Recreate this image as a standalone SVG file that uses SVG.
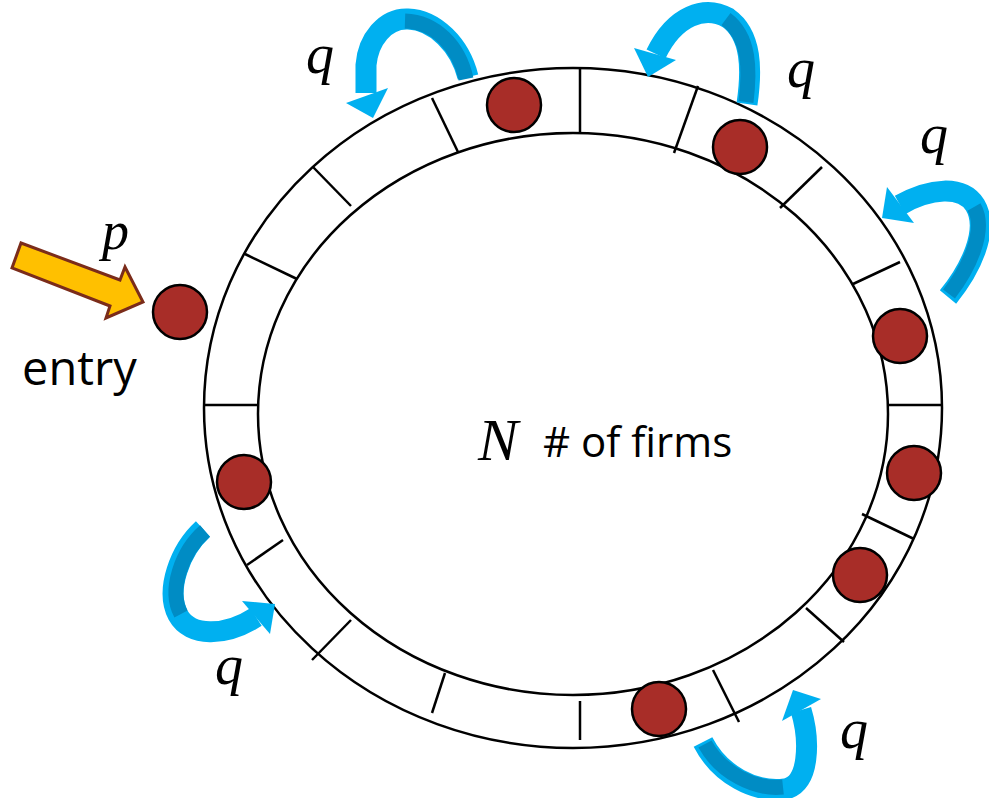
<svg xmlns="http://www.w3.org/2000/svg" width="989" height="798" viewBox="0 0 989 798">
<style>
.ring{fill:none;stroke:#000;stroke-width:2.5}
.div{stroke:#000;stroke-width:2.5;fill:none}
.firm{fill:#A82D28;stroke:#000;stroke-width:2.5}
.band{fill:none;stroke:#00B0F0;stroke-width:21}
.back{fill:none;stroke:#008CC4;stroke-width:15}
.head{fill:#00B0F0}
.math{font-family:"Liberation Serif","Times New Roman",serif;font-style:italic;fill:#000}
.lbl{font-family:"Open Sans","Noto Sans",sans-serif;fill:#000}
</style>
<rect width="989" height="798" fill="#fff"/>
<g id="ring">
<ellipse class="ring" cx="573" cy="408" rx="369" ry="340"/>
<ellipse class="ring" cx="573" cy="414" rx="315" ry="281"/>
<g id="dividers">
<line class="div" x1="580" y1="68" x2="580" y2="133"/>
<line class="div" x1="698" y1="86" x2="674" y2="153"/>
<line class="div" x1="822" y1="167" x2="780" y2="208"/>
<line class="div" x1="900" y1="262" x2="853" y2="284"/>
<line class="div" x1="888" y1="405" x2="941" y2="405"/>
<line class="div" x1="862" y1="514" x2="914" y2="539"/>
<line class="div" x1="806" y1="608" x2="844" y2="642"/>
<line class="div" x1="713" y1="670" x2="739" y2="722"/>
<line class="div" x1="580" y1="701" x2="580" y2="740"/>
<line class="div" x1="445" y1="673" x2="432" y2="713"/>
<line class="div" x1="351" y1="620" x2="312" y2="660"/>
<line class="div" x1="283" y1="540" x2="247" y2="565"/>
<line class="div" x1="204" y1="405" x2="258" y2="405"/>
<line class="div" x1="245" y1="254" x2="297" y2="279"/>
<line class="div" x1="313" y1="167" x2="351" y2="206"/>
<line class="div" x1="432" y1="98" x2="458" y2="152"/>
</g>
</g>
<g id="firms">
<circle id="firm-entry" class="firm" cx="180" cy="312" r="27"/>
<circle id="firm-1" class="firm" cx="514" cy="105" r="27"/>
<circle id="firm-2" class="firm" cx="740" cy="147" r="27"/>
<circle id="firm-3" class="firm" cx="900" cy="336" r="27"/>
<circle id="firm-4" class="firm" cx="914" cy="473" r="27"/>
<circle id="firm-5" class="firm" cx="860" cy="575" r="27"/>
<circle id="firm-6" class="firm" cx="659" cy="709" r="27"/>
<circle id="firm-7" class="firm" cx="244" cy="482" r="27"/>
</g>
<g id="connectors">
<g id="entry-arrow">
<polygon points="21,243 120,280 125,267 143,302 106,318 110,306 12,268" fill="#FFC000" stroke="#7B2C1A" stroke-width="3" stroke-linejoin="miter"/>
</g>
<g id="q-arrow-1">
<path class="band" d="M468,77 C460,45 435,20 408,19 C385,18 368,40 366,65 L366,93"/>
<path class="back" d="M466,79 C459,46 435,22 405,21"/>
<polygon class="head" points="346,103 373,118 388,88"/>
</g>
<g id="q-arrow-2">
<path class="band" d="M747,104 C752,70 752,35 728,18 C705,5 675,15 656,54"/>
<path class="back" d="M746,102 C750,70 750,37 726,19"/>
<polygon class="head" points="634,48 648,77 676,60"/>
</g>
<g id="q-arrow-3">
<path class="band" d="M948,297 C970,270 990,230 975,205 C962,185 930,188 900,205"/>
<path class="back" d="M949,294 C969,268 987,230 974,207"/>
<polygon class="head" points="887,187 882,218 914,223"/>
</g>
<g id="q-arrow-4">
<path class="band" d="M203,529 C180,550 165,590 178,615 C190,637 225,637 256,617"/>
<path class="back" d="M205,531 C182,551 168,590 181,614"/>
<polygon class="head" points="242,601 275,604 270,634"/>
</g>
<g id="q-arrow-5">
<path class="band" d="M703,742 C720,775 755,793 785,789 C810,785 810,740 801,710"/>
<path class="back" d="M705,744 C721,773 755,790 783,787"/>
<polygon class="head" points="782,721 793,690 821,699"/>
</g>
</g>
<g id="labels">
<text class="math" x="102" y="249" font-size="54">p</text>
<text class="lbl" x="22" y="385" font-size="47">entry</text>
<text class="math" x="306" y="73" font-size="56">q</text>
<text class="math" x="787" y="87" font-size="56">q</text>
<text class="math" x="920" y="153" font-size="56">q</text>
<text class="math" x="215" y="684" font-size="56">q</text>
<text class="math" x="840" y="748" font-size="56">q</text>
<text class="math" x="478" y="460" font-size="60">N</text>
<text class="lbl" x="543" y="457" font-size="42"># of firms</text>
</g>
</svg>
